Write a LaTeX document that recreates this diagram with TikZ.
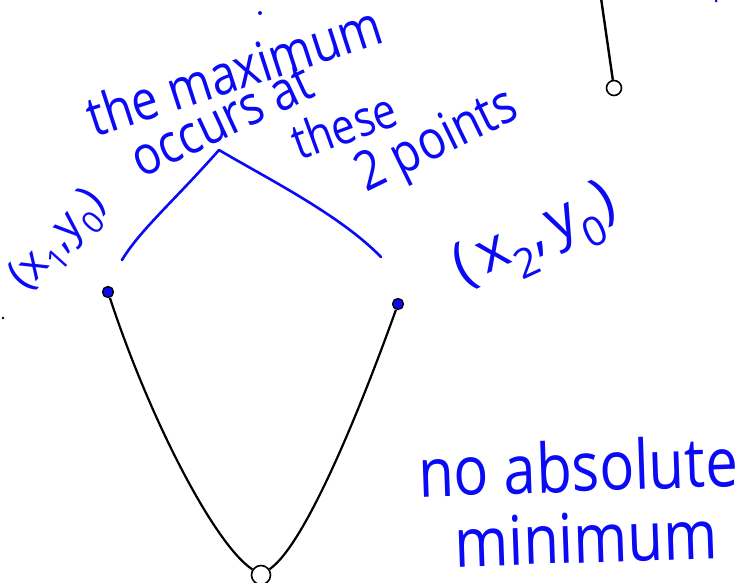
\documentclass[tikz,border=0pt]{standalone}
\usepackage{fontspec}
\setmainfont{Open Sans}
\definecolor{handblue}{RGB}{10,10,245}
\newcommand{\tallish}[1]{\scalebox{1}[1.18]{#1}}
\tikzset{
  hand/.style={text=handblue, font=\fontsize{44}{48}\selectfont, inner sep=0pt},
  bluestroke/.style={draw=handblue, line width=2.6pt, line cap=round, line join=round},
  curvestroke/.style={draw=black, line width=2.2pt},
  closeddot/.style={circle, fill=handblue, draw=black, line width=1.3pt, minimum size=11pt, inner sep=0pt},
  opendot/.style={circle, fill=white, draw=black, line width=1.6pt, inner sep=0pt},
}
\begin{document}
\begin{tikzpicture}[x=1pt,y=-1pt]
\useasboundingbox (0,0) rectangle (748,582);
\clip (0,0) rectangle (748,582);
% curve
\node[closeddot] (p1) at (108,292) {};
\node[closeddot] (p2) at (398,304) {};
\node[opendot, minimum size=19pt] (hole) at (261,575) {};
\draw[curvestroke] (p1) .. controls (150,420) and (215,545) .. (hole);
\draw[curvestroke] (hole) .. controls (305,545) and (360,410) .. (p2);
% upper right segment
\coordinate (top) at (601,-2);
\node[opendot, minimum size=15pt] (end) at (614,88) {};
\draw[curvestroke, line width=2.4pt] (top) -- (end);
% stray marks
\fill[black] (3,318) circle (1.3pt);
\fill[handblue] (260,13) circle (2pt);
\fill[handblue] (716,1) circle (1.5pt);
% texts
\node[hand, font=\fontsize{47}{51}\selectfont, rotate=18] (t1) at (234,70) {\tallish{the maximum}};
\node[hand, font=\fontsize{46}{50}\selectfont, rotate=25] (t2) at (222,121) {\tallish{occurs at}};
\node[hand, font=\fontsize{42}{46}\selectfont, rotate=20] (t3) at (344,125) {\tallish{these}};
\node[hand, font=\fontsize{46}{50}\selectfont, rotate=26] (t4) at (438,143) {\tallish{2 points}};
\node[hand, font=\fontsize{44}{48}\selectfont, rotate=48] (l1) at (60,242) {(x\textsubscript{1},y\textsubscript{0})};
\node[hand, font=\fontsize{58}{62}\selectfont, rotate=25] (l2) at (537,240) {\addfontfeatures{LetterSpace=14}(x\textsubscript{2},y\textsubscript{0})};
\node[hand, font=\fontsize{58}{62}\selectfont, rotate=2] (n1) at (578,466) {\tallish{no absolute}};
\node[hand, font=\fontsize{58}{62}\selectfont, rotate=2] (n2) at (586,538) {\tallish{minimum}};
% hat connector
\coordinate (hl) at (122,260);
\coordinate (hp) at (219,150);
\coordinate (hr) at (381,257);
\draw[bluestroke] (hl) .. controls (140,230) and (175,200) .. (hp);
\draw[bluestroke] (hp) .. controls (270,180) and (340,215) .. (hr);
\end{tikzpicture}
\end{document}
